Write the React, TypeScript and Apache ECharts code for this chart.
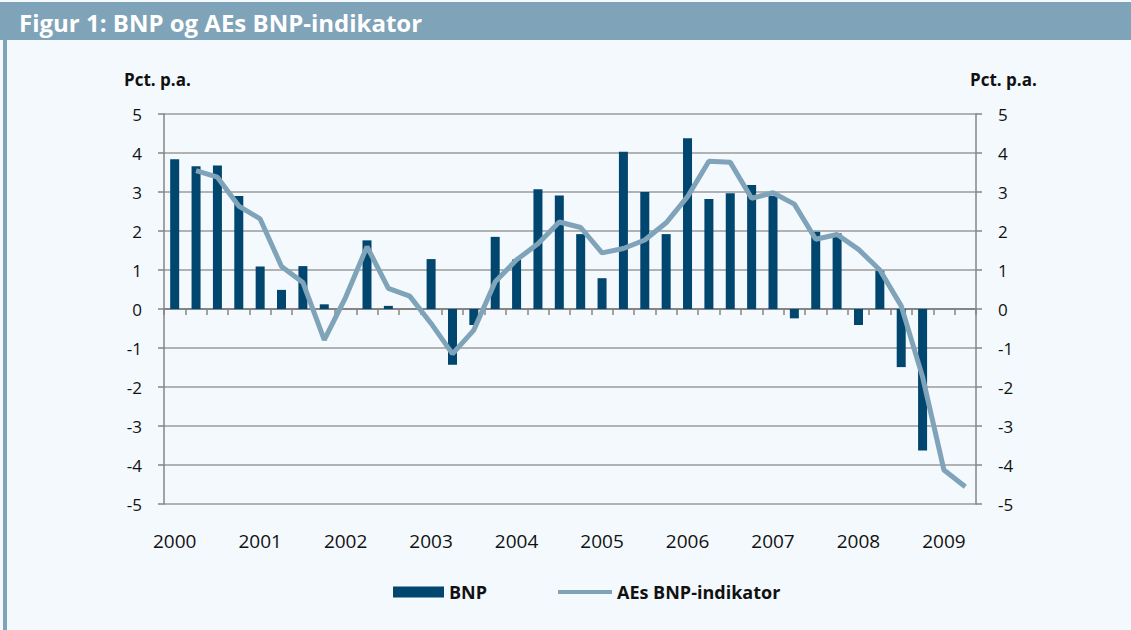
import React, { useEffect, useRef } from "react";
import * as echarts from "echarts";

const years = ["2000", "2001", "2002", "2003", "2004", "2005", "2006", "2007", "2008", "2009"];
const quarters = ["K1", "K2", "K3", "K4"];
const categories: string[] = [];
years.forEach((y) => quarters.forEach((q) => categories.push(y + " " + q)));
categories.splice(38); // 2000 K1 .. 2009 K2

const bnp: (number | null)[] = [
  3.84, 3.66, 3.68, 2.9,
  1.09, 0.49, 1.1, 0.12,
  0.0, 1.76, 0.08, 0.0,
  1.28, -1.43, -0.41, 1.85,
  1.27, 3.07, 2.91, 1.92,
  0.79, 4.03, 3.0, 1.92,
  4.38, 2.82, 2.97, 3.18,
  2.9, -0.24, 1.98, 1.94,
  -0.41, 0.98, -1.49, -3.63,
  null, null,
];

const aeIndicator: (number | null)[] = [
  null, 3.55, 3.38, 2.64,
  2.31, 1.09, 0.68, -0.79,
  0.3, 1.6, 0.53, 0.33,
  -0.37, -1.15, -0.54, 0.7,
  1.26, 1.67, 2.23, 2.09,
  1.44, 1.55, 1.77, 2.21,
  2.88, 3.79, 3.76, 2.84,
  2.98, 2.69, 1.79, 1.91,
  1.53, 1.0, 0.08, -1.74,
  -4.13, -4.56,
];

const yMin = -5;
const yMax = 5;
const yStep = 1;

const FONT = "'Open Sans', 'Noto Sans', sans-serif";
const BAR_COLOR = "#00466e";
const LINE_COLOR = "#7fa3b8";
const GRID_COLOR = "#9a9a9a";
const AXIS_COLOR = "#858585";
const TEXT = "#111111";

export default function App() {
  const ref = useRef<HTMLDivElement>(null);
  useEffect(() => {
    if (!ref.current) return;
    const chart = echarts.init(ref.current, undefined, { renderer: "svg" });
    const yAxisCommon = {
      type: "value" as const,
      min: yMin,
      max: yMax,
      interval: yStep,
      axisLine: { show: true, lineStyle: { color: AXIS_COLOR, width: 1.5 } },
      axisTick: { show: true, length: 6, lineStyle: { color: AXIS_COLOR, width: 1.5 } },
      axisLabel: { color: TEXT, fontSize: 17, fontFamily: FONT, margin: 22 },
    };
    const legendText = { color: TEXT, fontSize: 18, fontWeight: "bold" as const, fontFamily: FONT };
    chart.setOption({
      animation: false,
      backgroundColor: "#f4f9fd",
      textStyle: { fontFamily: FONT },
      grid: { left: 164, right: 155, top: 114, bottom: 126 },
      graphic: [
        { type: "rect", shape: { x: 0, y: 2, width: 1131, height: 38 }, style: { fill: LINE_COLOR } },
        { type: "rect", shape: { x: 3, y: 40, width: 4, height: 590 }, style: { fill: LINE_COLOR } },
        {
          type: "text",
          x: 19,
          y: 22,
          style: {
            text: "Figur 1: BNP og AEs BNP-indikator",
            fill: "#ffffff",
            font: "bold 24px " + FONT,
            verticalAlign: "middle",
          },
        },
        {
          type: "text",
          x: 124,
          y: 79,
          style: { text: "Pct. p.a.", fill: TEXT, font: "bold 17px " + FONT, verticalAlign: "middle" },
        },
        {
          type: "text",
          x: 970,
          y: 79,
          style: { text: "Pct. p.a.", fill: TEXT, font: "bold 17px " + FONT, verticalAlign: "middle" },
        },
      ],
      legend: [
        {
          data: [{ name: "BNP", icon: "rect" }],
          left: 393,
          top: 583,
          padding: 0,
          itemWidth: 51,
          itemHeight: 11,
          textStyle: legendText,
          selectedMode: false,
        },
        {
          data: [{ name: "AEs BNP-indikator", icon: "rect" }],
          left: 558,
          top: 583,
          padding: 0,
          itemWidth: 54,
          itemHeight: 4,
          textStyle: legendText,
          selectedMode: false,
        },
      ],
      xAxis: [
        {
          type: "category",
          data: categories,
          position: "bottom",
          axisLine: { show: false, onZero: false },
          axisTick: { show: false },
          axisLabel: {
            interval: 3,
            color: TEXT,
            fontSize: 19,
            fontFamily: FONT,
            margin: 27,
            formatter: (v: string) => v.slice(0, 4),
          },
        },
        {
          type: "category",
          data: categories,
          position: "bottom",
          axisLine: { show: true, onZero: true, lineStyle: { color: AXIS_COLOR, width: 2 } },
          axisTick: { show: true, interval: 0, length: 6, lineStyle: { color: AXIS_COLOR, width: 1.5 } },
          axisLabel: { show: false },
        },
      ],
      yAxis: [
        {
          ...yAxisCommon,
          position: "left",
          splitLine: { show: true, lineStyle: { color: GRID_COLOR, width: 1.5 } },
        },
        {
          ...yAxisCommon,
          position: "right",
          splitLine: { show: false },
        },
      ],
      series: [
        {
          name: "BNP",
          type: "bar",
          xAxisIndex: 0,
          yAxisIndex: 0,
          data: bnp,
          barWidth: 9,
          itemStyle: { color: BAR_COLOR },
          z: 2,
        },
        {
          name: "AEs BNP-indikator",
          type: "line",
          xAxisIndex: 0,
          yAxisIndex: 0,
          data: aeIndicator,
          showSymbol: false,
          symbol: "none",
          lineStyle: { color: LINE_COLOR, width: 5 },
          itemStyle: { color: LINE_COLOR },
          z: 3,
        },
      ],
    });
    return () => chart.dispose();
  }, []);
  return (
    <div
      ref={ref}
      style={{ position: "fixed", left: 0, top: 0, width: 1131, height: 630 }}
    />
  );
}
